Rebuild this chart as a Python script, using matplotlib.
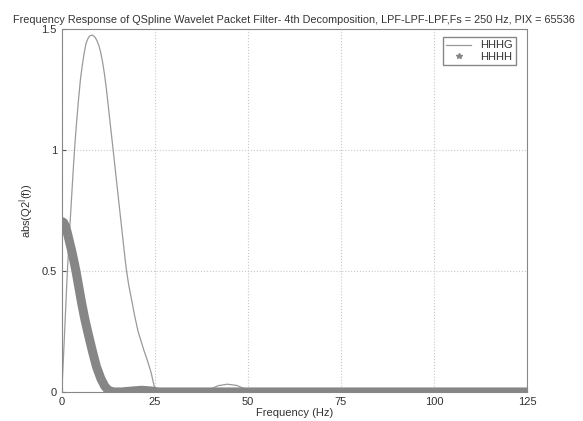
import numpy as np
import matplotlib.pyplot as plt
from matplotlib.lines import Line2D

plt.rcParams['font.family'] = ['Liberation Sans', 'DejaVu Sans']

# HHHG response (thin line)
freq_g = [0, 0.5, 1.0, 1.5, 2.0, 2.5, 3.0, 3.5, 4.0, 4.5, 5.0, 5.5, 6.0, 6.5, 7.0, 7.5,
          8.25, 9.0, 9.5, 10.0, 10.5, 11.0, 11.5, 12.0, 12.5, 13.0, 13.8, 14.5, 15.0,
          15.5, 16.0, 16.5, 17.0, 17.4, 18.0, 18.9, 19.5, 20.0, 20.5, 21.2, 22.0, 23.0,
          24.0, 24.5, 25.0, 25.5, 30, 38.5, 40, 42, 44.5, 47, 49, 50.2, 55, 75, 100, 125]
hhhg = [0, 0.16, 0.33, 0.50, 0.64, 0.77, 0.90, 1.02, 1.12, 1.21, 1.29, 1.35, 1.40, 1.44, 1.46, 1.472,
        1.475, 1.465, 1.45, 1.43, 1.40, 1.36, 1.31, 1.25, 1.18, 1.11, 1.00, 0.90, 0.83,
        0.76, 0.69, 0.62, 0.55, 0.50, 0.44, 0.37, 0.32, 0.285, 0.25, 0.215, 0.175, 0.13,
        0.08, 0.045, 0.015, 0.0, 0.0, 0.0, 0.012, 0.026, 0.032, 0.027, 0.014, 0.0, 0.0, 0.0, 0.0, 0.0]

# HHHH response (thick line)
freq_h = [0, 0.5, 1.0, 1.5, 2.0, 2.6, 3.2, 3.8, 4.5, 5.3, 6.2, 7.1, 8.2, 9.3,
          10.5, 11.5, 12.3, 12.9, 14, 16, 19, 21.5, 24, 26, 30, 50, 75, 100, 125]
hhhh = [0.705, 0.70, 0.685, 0.657, 0.625, 0.587, 0.545, 0.50, 0.44, 0.37, 0.30, 0.24, 0.17, 0.105,
        0.055, 0.025, 0.01, 0.004, 0.0, 0.0, 0.004, 0.007, 0.004, 0.0, 0.0, 0.0, 0.0, 0.0, 0.0]

fig = plt.figure(figsize=(5.83, 4.21), dpi=100)
ax = fig.add_axes([0.106, 0.069, 0.798, 0.862])

ax.plot(freq_g, hhhg, color='#9a9a9a', lw=0.9)
ax.plot(freq_h, hhhh, color='#868686', lw=6.5, solid_capstyle='round')

ax.set_xlim(0, 125)
ax.set_ylim(0, 1.5)
ax.set_xticks([0, 25, 50, 75, 100, 125])
ax.set_yticks([0, 0.5, 1, 1.5])
ax.set_yticklabels(['0', '0.5', '1', '1.5'])
ax.grid(True, ls=':', color='#c8c8c8', lw=0.8)
for s in ax.spines.values():
    s.set_color('#888888')
ax.tick_params(colors='#555555', labelcolor='#333333', labelsize=8, direction='in', length=3)

ax.set_title('Frequency Response of QSpline Wavelet Packet Filter- 4th Decomposition, '
             'LPF-LPF-LPF,Fs = 250 Hz, PIX = 65536', fontsize=7.8, color='#333333', pad=4)
ax.set_xlabel('Frequency (Hz)', fontsize=8, color='#333333', labelpad=1)
ax.set_ylabel(r'abs(Q2$^{\mathrm{l}}$(f))', fontsize=8, color='#333333', labelpad=4)

handles = [Line2D([], [], color='#9a9a9a', lw=0.9),
           Line2D([], [], color='#868686', ls='none', marker='*', ms=4)]
leg = ax.legend(handles, ['HHHG', 'HHHH'], loc='upper right', fontsize=8,
                fancybox=False, framealpha=1, edgecolor='#888888',
                borderaxespad=0.4, handlelength=2.2, labelspacing=0.1,
                borderpad=0.3, bbox_to_anchor=(0.985, 0.99))
for t in leg.get_texts():
    t.set_color('#333333')

fig.savefig('out.png', dpi=100)
